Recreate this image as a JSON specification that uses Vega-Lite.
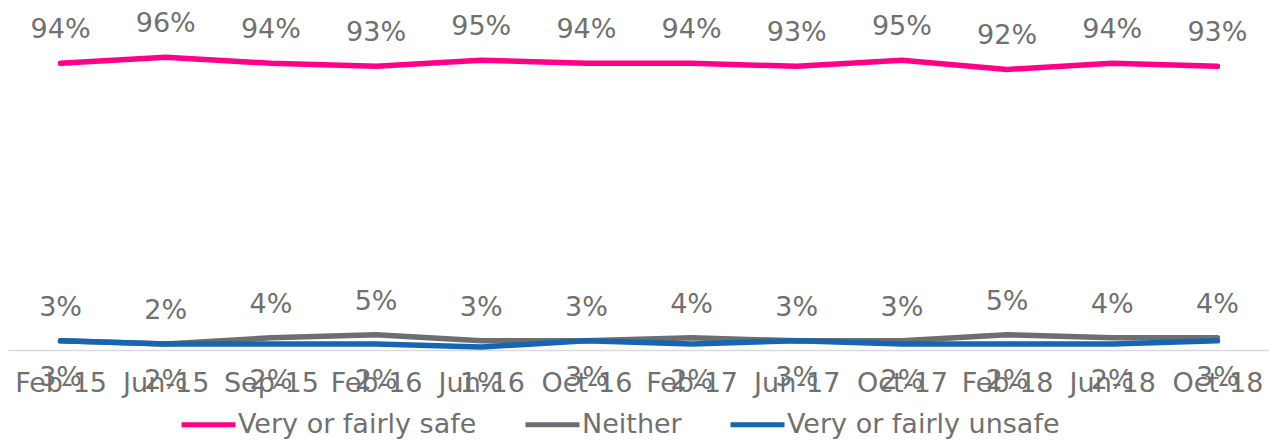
{
  "$schema": "https://vega.github.io/schema/vega-lite/v6.json",
  "width": 1262,
  "height": 305,
  "autosize": {"type": "none"},
  "padding": {"left": 8, "top": 45, "right": 0, "bottom": 91},
  "background": "white",
  "config": {"view": {"stroke": null}, "font": "DejaVu Sans"},
  "data": {"values": [
    {"period": "Feb-15", "series": "Very or fairly safe", "value": 0.94},
    {"period": "Jun-15", "series": "Very or fairly safe", "value": 0.96},
    {"period": "Sep-15", "series": "Very or fairly safe", "value": 0.94},
    {"period": "Feb-16", "series": "Very or fairly safe", "value": 0.93},
    {"period": "Jun-16", "series": "Very or fairly safe", "value": 0.95},
    {"period": "Oct-16", "series": "Very or fairly safe", "value": 0.94},
    {"period": "Feb-17", "series": "Very or fairly safe", "value": 0.94},
    {"period": "Jun-17", "series": "Very or fairly safe", "value": 0.93},
    {"period": "Oct-17", "series": "Very or fairly safe", "value": 0.95},
    {"period": "Feb-18", "series": "Very or fairly safe", "value": 0.92},
    {"period": "Jun-18", "series": "Very or fairly safe", "value": 0.94},
    {"period": "Oct-18", "series": "Very or fairly safe", "value": 0.93},
    {"period": "Feb-15", "series": "Neither", "value": 0.03},
    {"period": "Jun-15", "series": "Neither", "value": 0.02},
    {"period": "Sep-15", "series": "Neither", "value": 0.04},
    {"period": "Feb-16", "series": "Neither", "value": 0.05},
    {"period": "Jun-16", "series": "Neither", "value": 0.03},
    {"period": "Oct-16", "series": "Neither", "value": 0.03},
    {"period": "Feb-17", "series": "Neither", "value": 0.04},
    {"period": "Jun-17", "series": "Neither", "value": 0.03},
    {"period": "Oct-17", "series": "Neither", "value": 0.03},
    {"period": "Feb-18", "series": "Neither", "value": 0.05},
    {"period": "Jun-18", "series": "Neither", "value": 0.04},
    {"period": "Oct-18", "series": "Neither", "value": 0.04},
    {"period": "Feb-15", "series": "Very or fairly unsafe", "value": 0.03},
    {"period": "Jun-15", "series": "Very or fairly unsafe", "value": 0.02},
    {"period": "Sep-15", "series": "Very or fairly unsafe", "value": 0.02},
    {"period": "Feb-16", "series": "Very or fairly unsafe", "value": 0.02},
    {"period": "Jun-16", "series": "Very or fairly unsafe", "value": 0.01},
    {"period": "Oct-16", "series": "Very or fairly unsafe", "value": 0.03},
    {"period": "Feb-17", "series": "Very or fairly unsafe", "value": 0.02},
    {"period": "Jun-17", "series": "Very or fairly unsafe", "value": 0.03},
    {"period": "Oct-17", "series": "Very or fairly unsafe", "value": 0.02},
    {"period": "Feb-18", "series": "Very or fairly unsafe", "value": 0.02},
    {"period": "Jun-18", "series": "Very or fairly unsafe", "value": 0.02},
    {"period": "Oct-18", "series": "Very or fairly unsafe", "value": 0.03}
  ]},
  "encoding": {
    "x": {
      "field": "period", "type": "ordinal", "sort": null,
      "scale": {"type": "point", "padding": 0.5},
      "axis": {
        "title": null, "labelAngle": 0, "labelFontSize": 27, "labelColor": "#707070",
        "labelPadding": 20, "ticks": false, "domainColor": "#d9d9d9", "domainWidth": 1.5,
        "grid": false, "labelOverlap": false, "labelBound": false
      }
    },
    "y": {
      "field": "value", "type": "quantitative",
      "scale": {"domain": [0, 1], "nice": false, "zero": true},
      "axis": null
    }
  },
  "layer": [
    {
      "mark": {"type": "line", "strokeWidth": 5.5, "strokeCap": "round", "strokeJoin": "round"},
      "encoding": {
        "color": {
          "field": "series", "type": "nominal",
          "scale": {
            "domain": ["Very or fairly safe", "Neither", "Very or fairly unsafe"],
            "range": ["#ff0088", "#6d6e71", "#1565b2"]
          },
          "legend": {
            "title": null, "orient": "none", "direction": "horizontal",
            "legendX": 171, "legendY": 350,
            "symbolType": "stroke", "symbolSize": 2916, "symbolStrokeWidth": 5,
            "labelFontSize": 27, "labelColor": "#707070", "labelOffset": 0,
            "columnPadding": 38, "padding": 0, "labelLimit": 400
          }
        },
        "order": {"field": "series", "sort": "descending"}
      }
    },
    {
      "transform": [{"filter": "datum.series !== 'Very or fairly unsafe'"}],
      "mark": {"type": "text", "dy": -33, "fontSize": 27, "color": "#707070"},
      "encoding": {"text": {"field": "value", "type": "quantitative", "format": ".0%"}}
    },
    {
      "transform": [{"filter": "datum.series === 'Very or fairly unsafe'"}],
      "mark": {"type": "text", "dy": 37, "fontSize": 27, "color": "#707070"},
      "encoding": {"text": {"field": "value", "type": "quantitative", "format": ".0%"}}
    }
  ]
}
